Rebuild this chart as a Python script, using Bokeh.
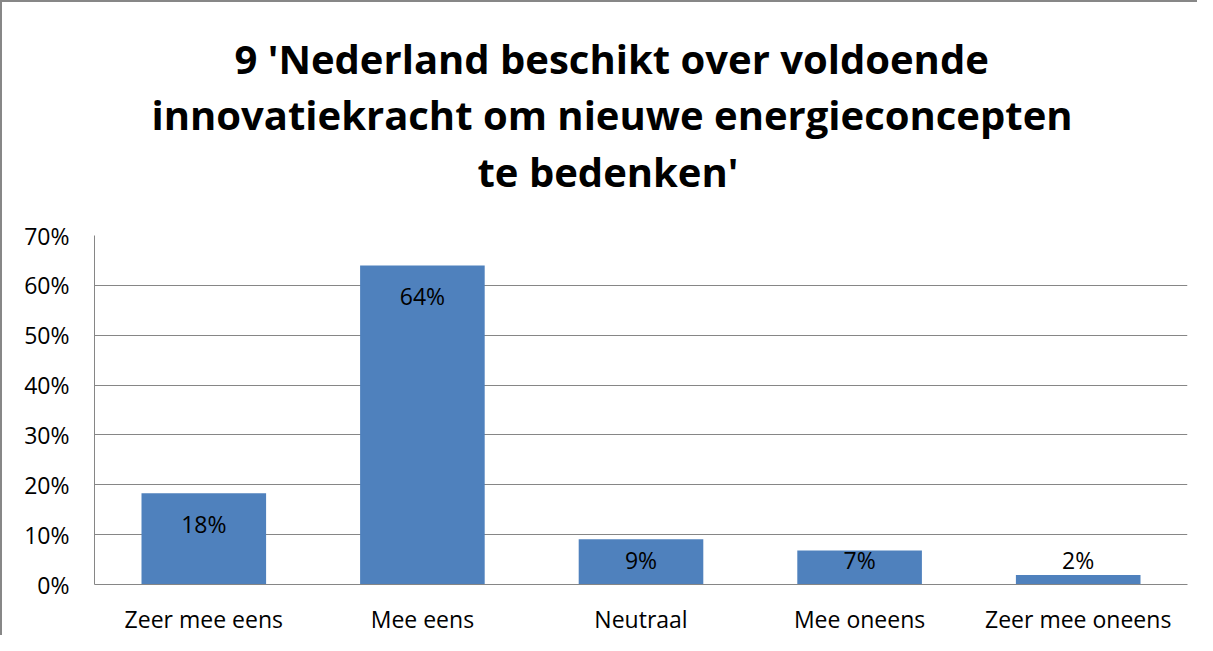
from bokeh.plotting import figure
from bokeh.models import ColumnDataSource, Title, PrintfTickFormatter, FixedTicker, Range1d
from bokeh.embed import file_html
from bokeh.resources import INLINE
from bokeh.core.properties import value
import numpy as np

categories = ["Zeer mee eens", "Mee eens", "Neutraal", "Mee oneens", "Zeer mee oneens"]
values = [18.3, 64.0, 9.1, 6.8, 1.9]
labels = ["18%", "64%", "9%", "7%", "2%"]
y_ticks = [0, 10, 20, 30, 40, 50, 60, 70]
title_lines = ["9 'Nederland beschikt over voldoende",
               "innovatiekracht om nieuwe energieconcepten",
               "te bedenken'"]

FONT = "Open Sans"
GRID = "#868686"
BAR = "#4F81BD"

vals = np.array(values)
label_y = np.maximum(vals - 6.2, 5.0)

src = ColumnDataSource(dict(cat=categories, val=values, lab=labels, ly=label_y))

p = figure(x_range=categories, width=1197, height=635, output_backend="svg",
           toolbar_location=None, min_border_left=92, min_border_right=12,
           min_border_bottom=44, min_border_top=0,
           styles={"border-left": "2px solid #878787", "border-top": "2px solid #878787"})
p.title = None

# stacked from the frame outward: bottom spacer, line 3, line 2, line 1, top spacer
def spacer(gap):
    return Title(text=" ", text_font_size="1px", standoff=gap)

p.add_layout(spacer(32), "above")
title_standoffs = [2, -4, 4]
title_offsets = [140, 57, 383]
for line, so, off in reversed(list(zip(title_lines, title_standoffs, title_offsets))):
    t = Title(text=line, align="left", offset=off, text_font=FONT,
              text_font_size="40px", text_font_style="bold", text_color="black",
              standoff=so)
    p.add_layout(t, "above")
p.add_layout(spacer(22), "above")

p.y_range = Range1d(0, 70)
p.vbar(x="cat", top="val", width=0.57, source=src, fill_color=BAR, line_color=None)
p.text(x="cat", y="ly", text="lab", source=src, text_align="center",
       text_baseline="middle", text_font=value(FONT), text_font_size="23px",
       text_color="black")

p.outline_line_color = None
p.xgrid.grid_line_color = None
p.ygrid.grid_line_color = GRID
p.ygrid.grid_line_width = 1
p.yaxis.ticker = FixedTicker(ticks=y_ticks)
p.yaxis.formatter = PrintfTickFormatter(format="%d%%")
for ax in (p.xaxis[0], p.yaxis[0]):
    ax.axis_line_color = GRID
    ax.axis_line_width = 1
    ax.major_tick_line_color = None
    ax.minor_tick_line_color = None
    ax.major_tick_out = 0
    ax.major_tick_in = 0
    ax.major_label_text_font = FONT
    ax.major_label_text_font_size = "23px"
    ax.major_label_text_color = "black"
p.yaxis.major_label_standoff = 25
p.xaxis.major_label_standoff = 18
p.xaxis.major_label_text_line_height = 1.0

open("out.html", "w").write(file_html(p, INLINE))
